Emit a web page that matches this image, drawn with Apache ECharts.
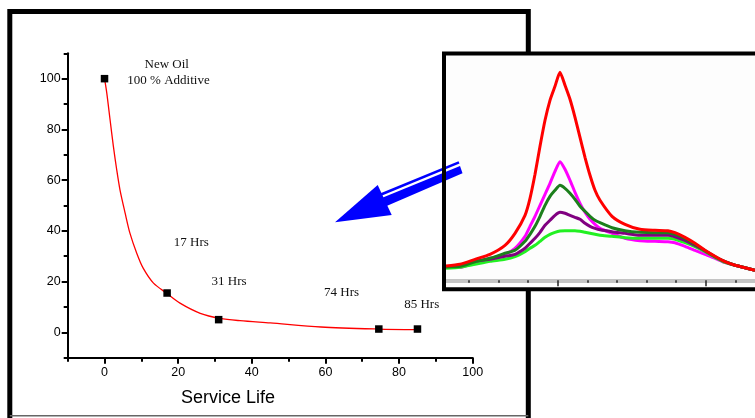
<!DOCTYPE html>
<html>
<head>
<meta charset="utf-8">
<script src="https://cdn.jsdelivr.net/npm/echarts@6/dist/echarts.min.js"></script>
<style>
html,body{margin:0;padding:0;background:#fff;}
#chart{width:755px;height:418px;}
</style>
</head>
<body>
<div id="chart"></div>
<script>
// ---- main chart data ----
const serviceHours = [0, 17, 31, 74.5, 85];
const additivePct = [100, 15.5, 5, 1.3, 1.3];
const fitX = [0, 0.6, 1.5, 2.4, 3.3, 4.2, 5.6, 6.9, 8.75, 10.5, 13.3, 16.9, 20.5, 26, 31.4, 36.8, 45, 58.8, 74.4, 85];
const fitY = [100, 94.5, 83.9, 73.4, 64.2, 56.2, 47, 39.1, 31.2, 25.3, 19.4, 15.4, 11.5, 7.5, 5.5, 4.6, 3.7, 2.1, 1.3, 1.05];
const xMajorTicks = [0, 20, 40, 60, 80, 100];
const xMinorTicks = [-10, 10, 30, 50, 70, 90];
const yMajorTicks = [0, 20, 40, 60, 80, 100];
const yMinorTicks = [-10, 10, 30, 50, 70, 90, 110];
const axisTitle = 'Service Life';
const noteNewOil = 'New Oil';
const noteAdditive = '100 % Additive';
const hourLabels = ['17 Hrs', '31 Hrs', '74 Hrs', '85 Hrs'];

// ---- inset chart data ----
const insetX = [0.223,0.696,1.203,1.709,2.216,2.554,2.892,3.061,3.230,3.399,3.568,3.736,3.905,4.074,4.243,4.412,4.581,4.750,4.919,5.088,5.257,5.426,5.831,6.270,6.777,7.284,7.723,7.959,8.297,8.635,8.973,9.311,9.649,9.986,10.324,10.662];
const insetRed =     [14.3,16,21,26,35,47,65,82,106,134,160,180,194,208,195,181,163,143,123,105,90,80,64,56,51,50,49.6,47.6,43,37,30,24,18.6,15,12.6,10];
const insetMagenta = [13,13,17.6,22,26,32,44,54,64,75,86,97,109,118.6,111,100,88,77,68,61,56,52,47,42,39.6,39,38.6,37.6,34,30,26,22,17.6,15,12.6,10];
const insetGreen =   [13.5,14,18.6,22,27,30,39,46,54,64,75,84,90,95,92,87,81,74,69,64,60,57.6,52.6,49.6,48,47.6,47.6,46,42,36,29.6,23.6,18.6,15,12.6,10];
const insetPurple =  [13.5,14.5,19,21,24,26,32,37,42,48,55,60,65,68,67,65,63,61,57,54,52,50.5,48.6,47,45,45,45,43.6,40,35,29.6,23.6,18.6,15,12.6,10];
const insetLime =    [12,13,16,19,21,23.6,28.6,32,35,39,43,46,48,49.3,49.6,49.6,49.6,49,48,47,46,45,44,42.6,42,42,42,41,37.6,33.6,28.6,23,18,15,12.6,10];
const insetTicks = [1,2,3,4,5,6,7,8,9,10];
const insetMajorTicks = [4, 9];

const zip = (a, b) => a.map((v, i) => [v, b[i]]);

const chart = echarts.init(document.getElementById('chart'), null, {renderer: 'canvas'});
const sans = 'Liberation Sans, Arial, sans-serif';
const serif = 'Liberation Serif, Times New Roman, serif';

function insetLine(name, data, color) {
  return {
    name, type: 'line', xAxisIndex: 2, yAxisIndex: 2, z: 12,
    data: zip(insetX, data), showSymbol: false, symbol: 'none', smooth: 0.2,
    lineStyle: {color, width: 3}, itemStyle: {color}, animation: false
  };
}

const option = {
  backgroundColor: '#fff',
  animation: false,
  grid: [
    {left: 67.7, top: 53.3, right: 282.3, bottom: 60.3, containLabel: false, outerBoundsMode: 'none'},
    {left: 446, top: 50.3, right: 0, bottom: 137.7, containLabel: false, outerBoundsMode: 'none'}
  ],
  xAxis: [
    {type: 'value', gridIndex: 0, min: -10, max: 100, position: 'bottom',
     axisLine: {show: true, onZero: false, lineStyle: {color: '#000', width: 2}},
     axisTick: {show: true, customValues: xMajorTicks, length: 6, lineStyle: {color: '#000', width: 2}},
     axisLabel: {show: true, customValues: xMajorTicks, margin: 8, color: '#000', fontFamily: sans, fontSize: 12.5},
     splitLine: {show: false}},
    {type: 'value', gridIndex: 0, min: -10, max: 100, position: 'bottom',
     axisLine: {show: false, onZero: false},
     axisTick: {show: true, customValues: xMinorTicks, length: 4, lineStyle: {color: '#000', width: 2}},
     axisLabel: {show: false}, splitLine: {show: false}},
    {type: 'value', gridIndex: 1, min: insetX[0], max: insetX[insetX.length - 1], position: 'bottom', z: 11,
     axisLine: {show: true, onZero: false, lineStyle: {color: '#c4c4c4', width: 4}},
     axisTick: {show: true, customValues: insetTicks, length: 2.5, lineStyle: {color: '#222', width: 1.5}},
     axisLabel: {show: false}, splitLine: {show: false}},
    {type: 'value', gridIndex: 1, min: insetX[0], max: insetX[insetX.length - 1], position: 'bottom', z: 11,
     axisLine: {show: false, onZero: false},
     axisTick: {show: true, customValues: insetMajorTicks, length: 6, lineStyle: {color: '#222', width: 1.5}},
     axisLabel: {show: false}, splitLine: {show: false}}
  ],
  yAxis: [
    {type: 'value', gridIndex: 0, min: -10, max: 110, position: 'left',
     axisLine: {show: true, onZero: false, lineStyle: {color: '#000', width: 2}},
     axisTick: {show: true, customValues: yMajorTicks, length: 6, lineStyle: {color: '#000', width: 2}},
     axisLabel: {show: true, customValues: yMajorTicks, margin: 7, color: '#000', fontFamily: sans, fontSize: 12.5},
     splitLine: {show: false}},
    {type: 'value', gridIndex: 0, min: -10, max: 110, position: 'left',
     axisLine: {show: false, onZero: false},
     axisTick: {show: true, customValues: yMinorTicks, length: 4, lineStyle: {color: '#000', width: 2}},
     axisLabel: {show: false}, splitLine: {show: false}},
    {type: 'value', gridIndex: 1, min: 0, max: 230, show: false,
     axisLine: {onZero: false}, splitLine: {show: false}}
  ],
  series: [
    {name: 'fit', type: 'line', xAxisIndex: 0, yAxisIndex: 0, data: zip(fitX, fitY),
     smooth: 0.3, showSymbol: false, symbol: 'none',
     lineStyle: {color: '#ff0000', width: 1.3}, z: 2},
    {name: 'points', type: 'scatter', xAxisIndex: 0, yAxisIndex: 0, data: zip(serviceHours, additivePct),
     symbol: 'rect', symbolSize: 7.5, itemStyle: {color: '#000', opacity: 1}, z: 3},
    insetLine('magenta', insetMagenta, '#ff00ff'),
    insetLine('lime', insetLime, '#22f022'),
    insetLine('purple', insetPurple, '#800080'),
    insetLine('green', insetGreen, '#1c7f1c'),
    insetLine('red', insetRed, '#ff0000')
  ],
  graphic: {elements: [
    {type: 'polyline', z: 1, shape: {points: [[9.8, 420], [9.8, 11.5], [528.3, 11.5], [528.3, 420]]},
     style: {stroke: '#000', lineWidth: 5, fill: null, lineJoin: 'miter'}},
    {type: 'line', z: 1, shape: {x1: 9.8, y1: 415.8, x2: 528.3, y2: 415.8},
     style: {stroke: '#666', lineWidth: 1.5}},
    {type: 'rect', z: 10, shape: {x: 444, y: 53.5, width: 330, height: 235.8},
     style: {fill: '#fdfdfd', stroke: null}},
    {type: 'polygon', z: 13, shape: {points: [[335, 222.3], [377.7, 185], [391.7, 215]]},
     style: {fill: '#0000ff'}},
    {type: 'polygon', z: 13, shape: {points: [[378, 199.5], [460, 166], [462.5, 173.3], [382, 208]]},
     style: {fill: '#0000ff'}},
    {type: 'line', z: 13, shape: {x1: 381, y1: 194.5, x2: 459, y2: 162.4},
     style: {stroke: '#0000ff', lineWidth: 2.6}},
    {type: 'rect', z: 14, shape: {x: 444, y: 53.5, width: 330, height: 235.8},
     style: {fill: null, stroke: '#000', lineWidth: 4}},
    {type: 'text', z: 5, style: {x: 228, y: 398, text: axisTitle, fill: '#000', font: '18px ' + sans, textAlign: 'center', textVerticalAlign: 'middle'}},
    {type: 'text', z: 5, style: {x: 166.7, y: 64.5, text: noteNewOil, fill: '#111', font: '13px ' + serif, textAlign: 'center', textVerticalAlign: 'middle'}},
    {type: 'text', z: 5, style: {x: 168.5, y: 81, text: noteAdditive, fill: '#111', font: '13px ' + serif, textAlign: 'center', textVerticalAlign: 'middle'}},
    {type: 'text', z: 5, style: {x: 191.3, y: 243, text: hourLabels[0], fill: '#111', font: '13px ' + serif, textAlign: 'center', textVerticalAlign: 'middle'}},
    {type: 'text', z: 5, style: {x: 229, y: 281.5, text: hourLabels[1], fill: '#111', font: '13px ' + serif, textAlign: 'center', textVerticalAlign: 'middle'}},
    {type: 'text', z: 5, style: {x: 341.5, y: 293, text: hourLabels[2], fill: '#111', font: '13px ' + serif, textAlign: 'center', textVerticalAlign: 'middle'}},
    {type: 'text', z: 5, style: {x: 421.7, y: 304.5, text: hourLabels[3], fill: '#111', font: '13px ' + serif, textAlign: 'center', textVerticalAlign: 'middle'}}
  ]}
};
chart.setOption(option);
</script>
</body>
</html>
